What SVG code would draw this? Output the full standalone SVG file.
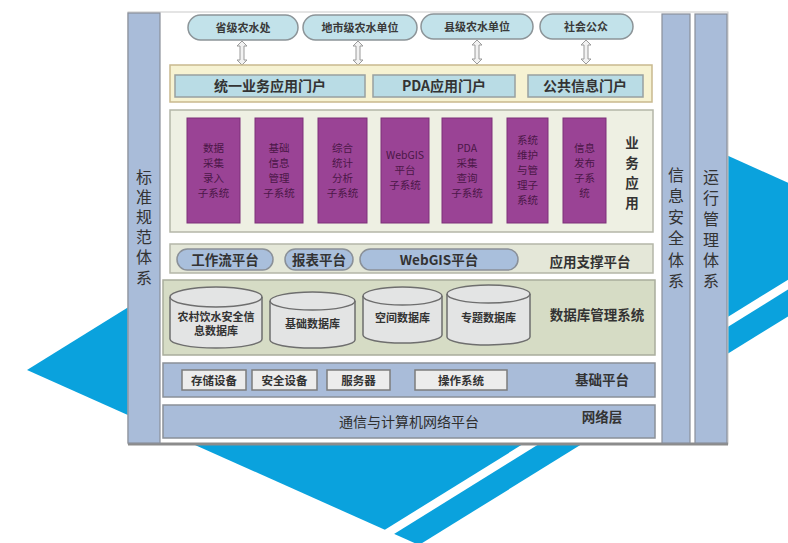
<svg xmlns="http://www.w3.org/2000/svg" width="788" height="543" viewBox="0 0 788 543">
<style>
text{font-family:"Noto Sans CJK SC","Liberation Sans",sans-serif;fill:#2e2e2e}
.col{fill:#a9bcd9;stroke:#8a8f9a;stroke-width:1.2}
.vt{font-size:16px;text-anchor:middle;fill:#333}
.pill{fill:#c2e2ea;stroke:#8c9498;stroke-width:1.5}
.pt{font-size:11px;font-weight:bold;text-anchor:middle;fill:#3a3a3a}
.portal{fill:#b9dce5;stroke:#98a0a0;stroke-width:1.5}
.ptl{font-size:14px;font-weight:bold;text-anchor:middle;fill:#333}
.sub{fill:#9a4395;stroke:#7d3079;stroke-width:1}
.st{font-size:10.5px;text-anchor:middle;fill:#4a1747}
.sup{fill:#a9bfdc;stroke:#8a9098;stroke-width:1.5}
.lbl{font-size:13.5px;font-weight:bold;text-anchor:middle;fill:#333}
.cyl{fill:#e3e4e4;stroke:#6e6e6e;stroke-width:1.5}
.ct{font-size:11px;font-weight:bold;text-anchor:middle;fill:#333}
.dev{fill:#ececec;stroke:#7c7c7c;stroke-width:1.5}
.dt{font-size:11.5px;font-weight:bold;text-anchor:middle;fill:#333}
.arr{fill:#f2f2f2;stroke:#9a9a9a;stroke-width:1}
</style>
<defs>
<path id="dbl" d="M-2,5 L-5,5 L0,0 L5,5 L2,5 L2,19 L5,19 L0,24 L-5,19 L-2,19 Z"/>
</defs>
<rect width="788" height="543" fill="#ffffff"/>
<g id="background">
<polygon points="27,370 522,63 913,239 419,545" fill="#0aa2dd"/>
<polygon points="320,570 860,235 876,235 336,570" fill="#ffffff"/>
</g>
<g id="frame">
<rect x="128" y="12" width="600" height="432" fill="#ffffff" stroke="#c9c9c9" stroke-width="1"/>
<line x1="128" y1="444" x2="728" y2="444" stroke="#8c8c8c" stroke-width="3"/>
</g>
<g id="col-standard">
<rect class="col" x="128" y="13" width="32" height="430"/>
<text class="vt" x="144" y="183" font-size="17">标</text>
<text class="vt" x="144" y="203" font-size="17">准</text>
<text class="vt" x="144" y="223" font-size="17">规</text>
<text class="vt" x="144" y="243" font-size="17">范</text>
<text class="vt" x="144" y="263" font-size="17">体</text>
<text class="vt" x="144" y="284" font-size="17">系</text>
</g>
<g id="col-security">
<rect class="col" x="662" y="14" width="28" height="429"/>
<text class="vt" x="676" y="181">信</text>
<text class="vt" x="676" y="202">息</text>
<text class="vt" x="676" y="223">安</text>
<text class="vt" x="676" y="244">全</text>
<text class="vt" x="676" y="266">体</text>
<text class="vt" x="676" y="287">系</text>
</g>
<g id="col-operation">
<rect class="col" x="695" y="14" width="32" height="429"/>
<text class="vt" x="711" y="183">运</text>
<text class="vt" x="711" y="204">行</text>
<text class="vt" x="711" y="225">管</text>
<text class="vt" x="711" y="246">理</text>
<text class="vt" x="711" y="266">体</text>
<text class="vt" x="711" y="287">系</text>
</g>
<g id="user-province"><rect class="pill" x="188" y="15" width="110" height="25" rx="12.5"/><text class="pt" x="243" y="31.5">省级农水处</text></g>
<g id="user-city"><rect class="pill" x="303" y="15" width="114" height="25" rx="12.5"/><text class="pt" x="360" y="31.5">地市级农水单位</text></g>
<g id="user-county"><rect class="pill" x="421" y="14" width="112" height="25" rx="12.5"/><text class="pt" x="477" y="30.5">县级农水单位</text></g>
<g id="user-public"><rect class="pill" x="540" y="14" width="93" height="25" rx="12.5"/><text class="pt" x="586" y="30.5">社会公众</text></g>
<g id="connectors">
<use href="#dbl" class="arr" x="242" y="41"/>
<use href="#dbl" class="arr" x="358" y="41"/>
<use href="#dbl" class="arr" x="477" y="40"/>
<use href="#dbl" class="arr" x="586" y="40"/>
</g>
<g id="portal-layer">
<rect x="170" y="65" width="482" height="37" fill="#f6f2d2" stroke="#c9b98e" stroke-width="1.5"/>
</g>
<g id="portal-unified"><rect class="portal" x="175" y="75" width="190" height="22"/><text class="ptl" x="270" y="91">统一业务应用门户</text></g>
<g id="portal-pda"><rect class="portal" x="373" y="75" width="142" height="22"/><text class="ptl" x="444" y="91">PDA应用门户</text></g>
<g id="portal-public"><rect class="portal" x="528" y="75" width="115" height="22"/><text class="ptl" x="585" y="91">公共信息门户</text></g>
<g id="business-layer">
<rect x="170" y="110" width="483" height="122" fill="#eef0e3" stroke="#b4b6a8" stroke-width="1.5"/>
<text class="lbl" font-size="15" x="632" y="148">业</text>
<text class="lbl" font-size="15" x="632" y="168">务</text>
<text class="lbl" font-size="15" x="632" y="188">应</text>
<text class="lbl" font-size="15" x="632" y="208">用</text>
</g>
<g id="sub-collect"><rect class="sub" x="187" y="118" width="53" height="105"/><text class="st"><tspan x="213.5" y="152">数据</tspan><tspan x="213.5" y="167">采集</tspan><tspan x="213.5" y="182">录入</tspan><tspan x="213.5" y="197">子系统</tspan></text></g>
<g id="sub-basic"><rect class="sub" x="255" y="118" width="48" height="105"/><text class="st"><tspan x="279" y="152">基础</tspan><tspan x="279" y="167">信息</tspan><tspan x="279" y="182">管理</tspan><tspan x="279" y="197">子系统</tspan></text></g>
<g id="sub-stat"><rect class="sub" x="318" y="118" width="49" height="105"/><text class="st"><tspan x="342.5" y="152">综合</tspan><tspan x="342.5" y="167">统计</tspan><tspan x="342.5" y="182">分析</tspan><tspan x="342.5" y="197">子系统</tspan></text></g>
<g id="sub-webgis"><rect class="sub" x="381" y="118" width="48" height="105"/><text class="st"><tspan x="405" y="159">WebGIS</tspan><tspan x="405" y="174">平台</tspan><tspan x="405" y="189">子系统</tspan></text></g>
<g id="sub-pda"><rect class="sub" x="442" y="118" width="50" height="105"/><text class="st"><tspan x="467" y="152">PDA</tspan><tspan x="467" y="167">采集</tspan><tspan x="467" y="182">查询</tspan><tspan x="467" y="197">子系统</tspan></text></g>
<g id="sub-maint"><rect class="sub" x="507" y="118" width="41" height="105"/><text class="st"><tspan x="527.5" y="144">系统</tspan><tspan x="527.5" y="159">维护</tspan><tspan x="527.5" y="174">与管</tspan><tspan x="527.5" y="189">理子</tspan><tspan x="527.5" y="204">系统</tspan></text></g>
<g id="sub-publish"><rect class="sub" x="563" y="118" width="43" height="105"/><text class="st"><tspan x="584.5" y="152">信息</tspan><tspan x="584.5" y="167">发布</tspan><tspan x="584.5" y="182">子系</tspan><tspan x="584.5" y="197">统</tspan></text></g>
<g id="support-layer">
<rect x="170" y="244" width="483" height="29" fill="#e4e7d8" stroke="#b4b6a8" stroke-width="1.5"/>
<text class="lbl" x="590" y="267">应用支撑平台</text>
</g>
<g id="support-workflow"><rect class="sup" x="177" y="249" width="96" height="21" rx="10.5"/><text class="lbl" font-size="13" x="225" y="264.5">工作流平台</text></g>
<g id="support-report"><rect class="sup" x="285" y="249" width="68" height="21" rx="10.5"/><text class="lbl" font-size="13" x="319" y="264.5">报表平台</text></g>
<g id="support-webgis"><rect class="sup" x="360" y="249" width="158" height="21" rx="10.5"/><text class="lbl" font-size="13" x="439" y="264.5">WebGIS平台</text></g>
<g id="db-layer">
<rect x="163" y="280" width="492" height="75" fill="#d6dcc5" stroke="#a9ad9c" stroke-width="1.5"/>
<text class="lbl" font-size="14" x="597" y="320">数据库管理系统</text>
</g>
<g id="db-water"><path class="cyl" d="M170,297 A46,10 0 0 1 262,297 L262,339 A46,9 0 0 1 170,339 Z"/><path d="M170,297 A46,10 0 0 0 262,297" fill="none" stroke="#6e6e6e" stroke-width="1.5"/><text class="ct"><tspan x="216" y="321">农村饮水安全信</tspan><tspan x="216" y="335">息数据库</tspan></text></g>
<g id="db-basic"><path class="cyl" d="M270,301 A42.5,9 0 0 1 355,301 L355,340 A42.5,8 0 0 1 270,340 Z"/><path d="M270,301 A42.5,9 0 0 0 355,301" fill="none" stroke="#6e6e6e" stroke-width="1.5"/><text class="ct" x="312.5" y="328">基础数据库</text></g>
<g id="db-spatial"><path class="cyl" d="M363,296 A39.5,9 0 0 1 442,296 L442,335 A39.5,8 0 0 1 363,335 Z"/><path d="M363,296 A39.5,9 0 0 0 442,296" fill="none" stroke="#6e6e6e" stroke-width="1.5"/><text class="ct" x="402.5" y="322">空间数据库</text></g>
<g id="db-topic"><path class="cyl" d="M447,294 A41.5,9 0 0 1 530,294 L530,337 A41.5,8 0 0 1 447,337 Z"/><path d="M447,294 A41.5,9 0 0 0 530,294" fill="none" stroke="#6e6e6e" stroke-width="1.5"/><text class="ct" x="488.5" y="322">专题数据库</text></g>
<g id="base-layer">
<rect x="163" y="363" width="492" height="34" fill="#a9bcd9" stroke="#8a9098" stroke-width="1.5"/>
<text class="lbl" font-size="14" x="602" y="385">基础平台</text>
</g>
<g id="dev-storage"><rect class="dev" x="182" y="370" width="64" height="20"/><text class="dt" x="214" y="384.5">存储设备</text></g>
<g id="dev-security"><rect class="dev" x="252" y="370" width="65" height="20"/><text class="dt" x="284.5" y="384.5">安全设备</text></g>
<g id="dev-server"><rect class="dev" x="327" y="370" width="63" height="20"/><text class="dt" x="358.5" y="384.5">服务器</text></g>
<g id="dev-os"><rect class="dev" x="415" y="370" width="92" height="20"/><text class="dt" x="461" y="384.5">操作系统</text></g>
<g id="network-layer">
<rect x="163" y="405" width="492" height="33" fill="#a9bcd9" stroke="#8a9098" stroke-width="1.5"/>
<text x="409" y="427" font-size="14" text-anchor="middle" fill="#333">通信与计算机网络平台</text>
<text class="lbl" font-size="14" x="602" y="422">网络层</text>
</g>
</svg>
